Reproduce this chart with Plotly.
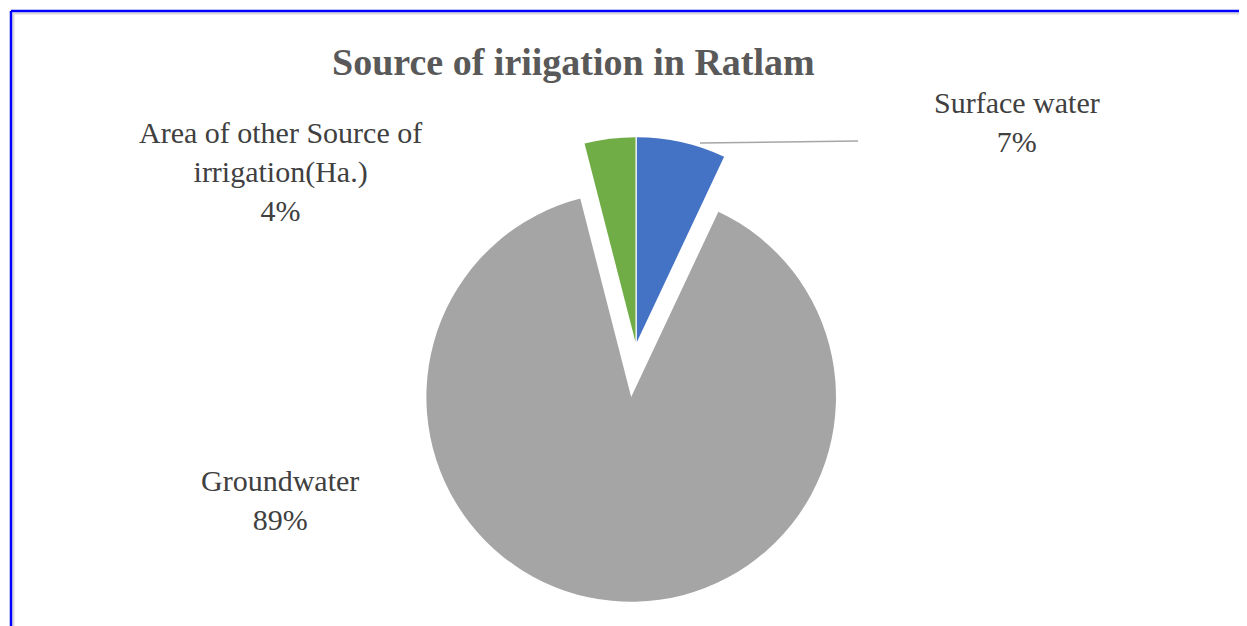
import plotly.graph_objects as go

# ---- data ----
labels = ["Surface water", "Groundwater", "Area of other Source of irrigation(Ha.)"]
label_text = ["Surface water", "Groundwater", "Area of other Source of<br>irrigation(Ha.)"]
values = [7, 89, 4]
colors = ["#4472C4", "#A5A5A5", "#70AD47"]
pulls = [0.02, 0.25, 0.02]
title_text = "Source of iriigation in Ratlam"

# page body has an 8px margin: size the figure so it fits the window exactly
OFF = 8
W, H = 1247 - OFF, 626 - OFF


def px(x):
    return (x - OFF) / W


def py(y):
    return 1 - (y - OFF) / H


fig = go.Figure()
fig.add_trace(go.Pie(
    labels=labels,
    values=values,
    sort=False,
    direction="clockwise",
    rotation=0,
    pull=pulls,
    marker=dict(colors=colors, line=dict(color="white", width=0)),
    textinfo="none",
    hoverinfo="label+percent",
    showlegend=False,
    domain=dict(x=[px(380), px(892)], y=[py(602), py(90)]),
))

total = sum(values)
label_pos = [(1017, 122), (280, 500), (280, 172)]
for txt, v, (lx, ly) in zip(label_text, values, label_pos):
    fig.add_annotation(
        x=px(lx), y=py(ly), xref="paper", yref="paper",
        text=f"{txt}<br>{round(100 * v / total)}%",
        showarrow=False, xanchor="center", yanchor="middle",
        font=dict(family="Liberation Serif", size=30, color="#404040"),
    )

fig.add_annotation(
    x=px(573), y=py(62), xref="paper", yref="paper",
    text=f"<b>{title_text}</b>", showarrow=False,
    xanchor="center", yanchor="middle",
    font=dict(family="Liberation Serif", size=38, color="#595959"),
)

# leader line for Surface water
fig.add_shape(type="line", xref="paper", yref="paper",
              x0=px(700), y0=py(143), x1=px(858), y1=py(141),
              line=dict(color="#A6A6A6", width=1.5))

# frame border (blue with light gray inner line)
for off, col, w in [(13.5, "#D9D9D9", 2), (11, "#0000FF", 2.5)]:
    fig.add_shape(type="line", xref="paper", yref="paper",
                  x0=px(off), y0=py(off), x1=1.0, y1=py(off),
                  line=dict(color=col, width=w))
    fig.add_shape(type="line", xref="paper", yref="paper",
                  x0=px(off), y0=py(off), x1=px(off), y1=0,
                  line=dict(color=col, width=w))

fig.update_layout(
    width=W, height=H,
    margin=dict(l=0, r=0, t=0, b=0),
    paper_bgcolor="white",
    plot_bgcolor="white",
)

fig.write_html("out.html")
